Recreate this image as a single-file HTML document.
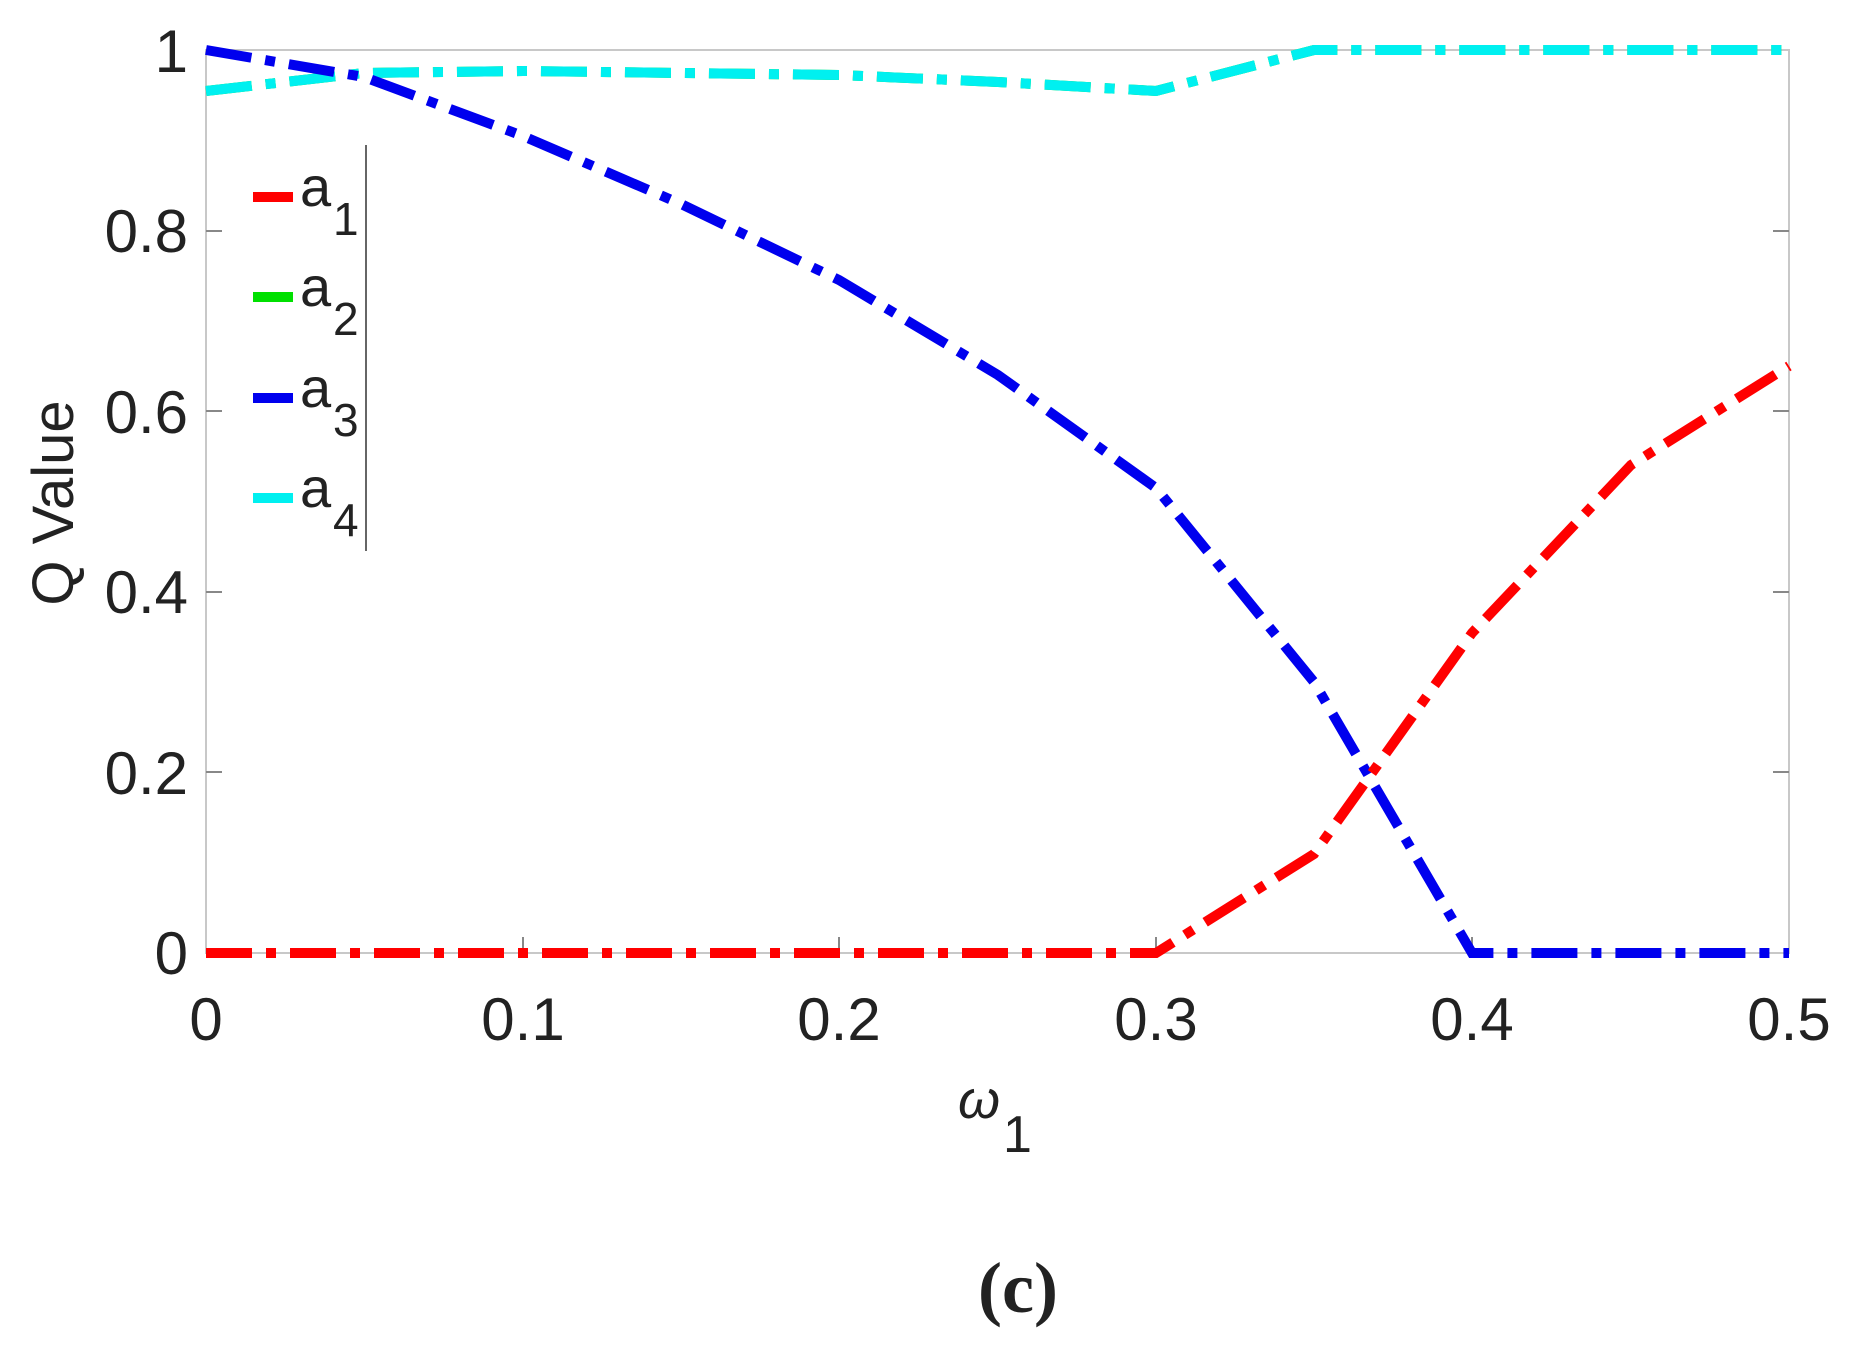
<!DOCTYPE html>
<html><head><meta charset="utf-8"><style>
html,body{margin:0;padding:0;background:#fff;}
svg{display:block;}
text{font-family:"Liberation Sans",sans-serif;fill:#222;}
</style></head><body>
<svg width="1851" height="1347" viewBox="0 0 1851 1347" xmlns="http://www.w3.org/2000/svg">
<rect width="1851" height="1347" fill="#fff"/>
<rect x="206" y="50" width="1583" height="903" fill="none" stroke="#c8c8c8" stroke-width="2"/>
<g stroke="#888" stroke-width="2">
<line x1="206" y1="772" x2="222" y2="772"/><line x1="206" y1="592" x2="222" y2="592"/><line x1="206" y1="411" x2="222" y2="411"/><line x1="206" y1="231" x2="222" y2="231"/>
<line x1="1789" y1="772" x2="1773" y2="772"/><line x1="1789" y1="592" x2="1773" y2="592"/><line x1="1789" y1="411" x2="1773" y2="411"/><line x1="1789" y1="231" x2="1773" y2="231"/>
<line x1="523" y1="953" x2="523" y2="937"/><line x1="839" y1="953" x2="839" y2="937"/><line x1="1156" y1="953" x2="1156" y2="937"/><line x1="1472" y1="953" x2="1472" y2="937"/>
</g>
<g font-size="60" text-anchor="end">
<text x="188" y="974">0</text><text x="188" y="794">0.2</text><text x="188" y="613">0.4</text><text x="188" y="433">0.6</text><text x="188" y="252">0.8</text><text x="188" y="72">1</text>
</g>
<g font-size="60" text-anchor="middle">
<text x="206" y="1040">0</text><text x="523" y="1040">0.1</text><text x="839" y="1040">0.2</text><text x="1156" y="1040">0.3</text><text x="1472" y="1040">0.4</text><text x="1789" y="1040">0.5</text>
</g>
<text x="53" y="503" font-size="58" text-anchor="middle" transform="rotate(-90 53 503)" dy="20">Q Value</text>
<text x="958" y="1118" font-size="54" font-family="Liberation Serif" font-style="italic">ω</text>
<text x="1003" y="1152" font-size="52">1</text>
<text x="1018" y="1312" font-size="72" font-weight="bold" text-anchor="middle" style="font-family:'Liberation Serif',serif">(c)</text>
<g fill="none" stroke-width="10" stroke-dasharray="46 14 10 14">
<polyline stroke="#00e000" points="206,91 364,73 523,71 681,73 839,75 998,82 1156,91 1314,50 1472,50 1631,50 1789,50"/>
<polyline stroke="#00f0f0" points="206,91 364,73 523,71 681,73 839,75 998,82 1156,91 1314,50 1472,50 1631,50 1789,50"/>
<polyline stroke="#0000ee" points="206,50 364,77 523,136 681,204 839,280 998,375 1156,488 1314,682 1472,953 1631,953 1789,953"/>
<polyline stroke="#ff0000" points="206,953 364,953 523,953 681,953 839,953 998,953 1156,953 1314,854 1472,633 1631,465 1789,366"/>
</g>
<line x1="366" y1="145" x2="366" y2="551" stroke="#666" stroke-width="2"/>
<g stroke-width="10">
<line x1="253" y1="197" x2="293" y2="197" stroke="#ff0000"/>
<line x1="253" y1="297" x2="293" y2="297" stroke="#00e000"/>
<line x1="253" y1="398" x2="293" y2="398" stroke="#0000ee"/>
<line x1="253" y1="498" x2="293" y2="498" stroke="#00f0f0"/>
</g>
<g font-size="56">
<text x="300" y="206">a</text><text x="333" y="235" font-size="46">1</text>
<text x="300" y="306">a</text><text x="333" y="335" font-size="46">2</text>
<text x="300" y="407">a</text><text x="333" y="436" font-size="46">3</text>
<text x="300" y="507">a</text><text x="333" y="536" font-size="46">4</text>
</g>
</svg>
</body></html>
